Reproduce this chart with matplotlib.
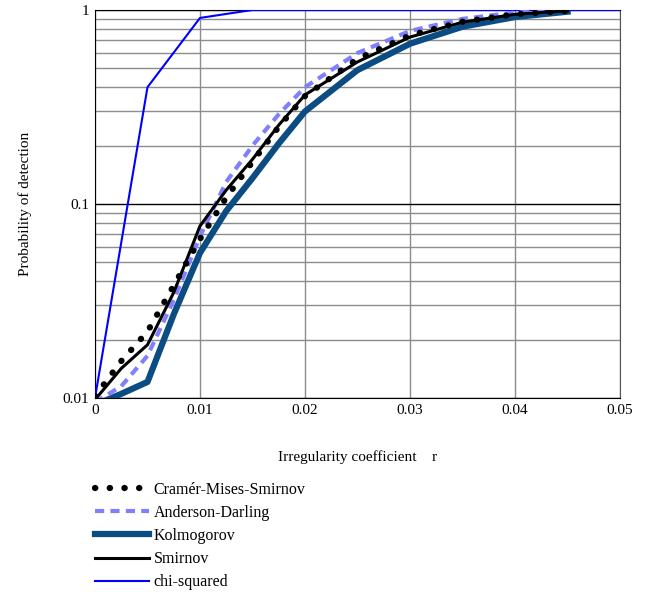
import matplotlib.pyplot as plt
from matplotlib.lines import Line2D

plt.rcParams['font.family'] = ['Liberation Serif', 'DejaVu Serif']

# значения
r = [0.0, 0.0025, 0.005, 0.0075, 0.01, 0.0125, 0.015, 0.0175, 0.02, 0.025, 0.03, 0.035, 0.04, 0.045]
cms = [0.0102, 0.0155, 0.022, 0.038, 0.066, 0.108, 0.165, 0.25, 0.36, 0.56, 0.74, 0.87, 0.95, 0.99]
ad = [0.0095, 0.0115, 0.0165, 0.032, 0.068, 0.13, 0.2, 0.29, 0.4, 0.6, 0.78, 0.9, 0.97, 1.0]
kolm = [0.0092, 0.0105, 0.0121, 0.027, 0.056, 0.092, 0.136, 0.205, 0.3, 0.49, 0.67, 0.82, 0.92, 0.98]
smir = [0.0098, 0.0142, 0.0188, 0.035, 0.077, 0.118, 0.17, 0.255, 0.365, 0.54, 0.725, 0.865, 0.95, 0.99]
chi_r = [0.0, 0.005, 0.01, 0.015, 0.02, 0.025, 0.03, 0.035, 0.04, 0.045, 0.05]
chi = [0.01, 0.4, 0.91, 1.0, 1.0, 1.0, 1.0, 1.0, 1.0, 1.0, 1.0]

dots = (0, (0.05, 2.3))
dashes = (0, (2.2, 1.5))

fig = plt.figure(figsize=(6.68, 5.94), dpi=100)
ax = fig.add_axes([0.1422, 0.33, 0.786, 0.6532])

ax.plot(r, cms, color='black', lw=4.5, linestyle=dots, dash_capstyle='round', zorder=5)
ax.plot(r, ad, color='#8080ff', lw=3, linestyle=dashes, zorder=4)
ax.plot(r, kolm, color='#0b4c82', lw=4.5, zorder=3)
ax.plot(r, smir, color='black', lw=2.2, zorder=4)
ax.plot(chi_r, chi, color='#0000ff', lw=1.5, zorder=3)

ax.set_yscale('log')
ax.set_xlim(0, 0.05)
ax.set_ylim(0.01, 1)
ax.set_xticks([0, 0.01, 0.02, 0.03, 0.04, 0.05])
ax.set_xticklabels(['0', '0.01', '0.02', '0.03', '0.04', '0.05'])
ax.set_yticks([0.01, 0.1, 1])
ax.set_yticklabels(['0.01', '0.1', '1'])
ax.tick_params(length=0, labelsize=11, pad=4)
ax.minorticks_on()
ax.tick_params(which='minor', length=0)
ax.xaxis.set_minor_locator(plt.NullLocator())

ax.grid(True, which='major', axis='x', color='#8c8c8c', lw=1)
ax.grid(True, which='minor', axis='y', color='#8c8c8c', lw=1)
ax.grid(True, which='major', axis='y', color='black', lw=1)
for s in ['left', 'bottom', 'top']:
    ax.spines[s].set_color('black')
ax.spines['right'].set_color('#555555')

ax.set_xlabel('Irregularity coefficient    r', fontsize=11, labelpad=24)
ax.set_ylabel('Probability of detection', fontsize=11, labelpad=22)

handles = [
    Line2D([], [], color='black', lw=4.5, linestyle=dots, dash_capstyle='round'),
    Line2D([], [], color='#8080ff', lw=3, linestyle=dashes),
    Line2D([], [], color='#0b4c82', lw=4.5),
    Line2D([], [], color='black', lw=2.2),
    Line2D([], [], color='#0000ff', lw=1.5),
]
labels = ['Cramér-Mises-Smirnov', 'Anderson-Darling', 'Kolmogorov', 'Smirnov', 'chi-squared']
fig.legend(handles, labels, loc='upper left', bbox_to_anchor=(0.132, 0.2),
           frameon=False, fontsize=11.5, handlelength=3.4, handletextpad=0.3,
           labelspacing=0.45, borderaxespad=0)

fig.savefig('out.png', dpi=100)
